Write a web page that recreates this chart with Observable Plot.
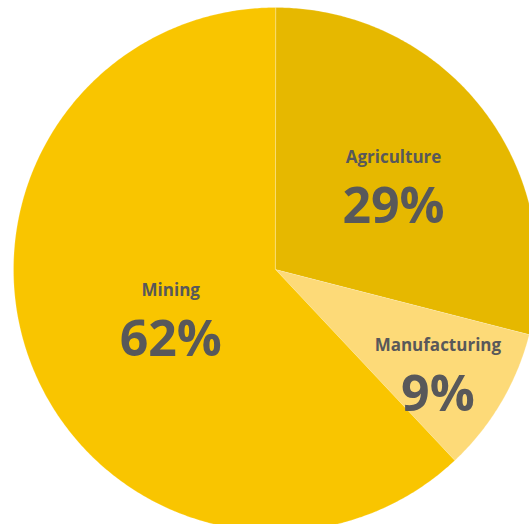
<!DOCTYPE html>
<html><head><meta charset="utf-8">
<script src="https://cdn.jsdelivr.net/npm/d3@7"></script>
<script src="https://cdn.jsdelivr.net/npm/@observablehq/plot@0.6"></script>
<style>html,body{margin:0;padding:0;background:#fff;overflow:hidden}</style>
</head><body><div id="chart"></div>
<script>
// Data
const categories = ["Agriculture", "Manufacturing", "Mining"];
const shares = [29, 9, 62];
const percentLabels = ["29%", "9%", "62%"];

// Style / layout (kept apart from the data)
const colors = ["#E6B800", "#FDDA78", "#F9C500"];
const labelRadius = {Agriculture: 0.57, Manufacturing: 0.72, Mining: 0.43};

const rows = categories.map((c, i) => ({category: c, share: shares[i], pct: percentLabels[i]}));
const arcs = d3.pie().sort(null).value(d => d.share)(rows);

// polygon table for each slice (unit circle, y up)
const polys = [];
for (const a of arcs) {
  const n = Math.max(2, Math.ceil((a.endAngle - a.startAngle) / (Math.PI / 360)));
  polys.push({category: a.data.category, x: 0, y: 0});
  for (let k = 0; k <= n; k++) {
    const t = a.startAngle + (a.endAngle - a.startAngle) * k / n;
    polys.push({category: a.data.category, x: Math.sin(t), y: Math.cos(t)});
  }
}
const labels = arcs.map(a => {
  const m = (a.startAngle + a.endAngle) / 2;
  const r = labelRadius[a.data.category];
  return {category: a.data.category, pct: a.data.pct, x: r * Math.sin(m), y: r * Math.cos(m)};
});

const chart = Plot.plot({
  width: 529,
  height: 524,
  margin: 0,
  style: {background: "#fff", fontFamily: "'Open Sans', sans-serif"},
  x: {domain: [-1, 1], range: [13, 537], axis: null},
  y: {domain: [-1, 1], range: [531, 7], axis: null},
  color: {domain: categories, range: colors},
  marks: [
    Plot.line(polys, {x: "x", y: "y", z: "category", fill: "category", stroke: "#ffffff", strokeOpacity: 0.35, strokeWidth: 0.6, curve: "linear-closed"}),
    Plot.text(labels, {x: "x", y: "y", text: "category", dy: -20, fill: "#58585A", fontSize: 17, fontWeight: "bold", lineAnchor: "middle"}),
    Plot.text(labels, {x: "x", y: "y", text: "pct", dy: 29, fill: "#58585A", fontSize: 50, fontWeight: "bold", lineAnchor: "middle"})
  ]
});
document.getElementById("chart").appendChild(chart);
</script>
</body></html>
